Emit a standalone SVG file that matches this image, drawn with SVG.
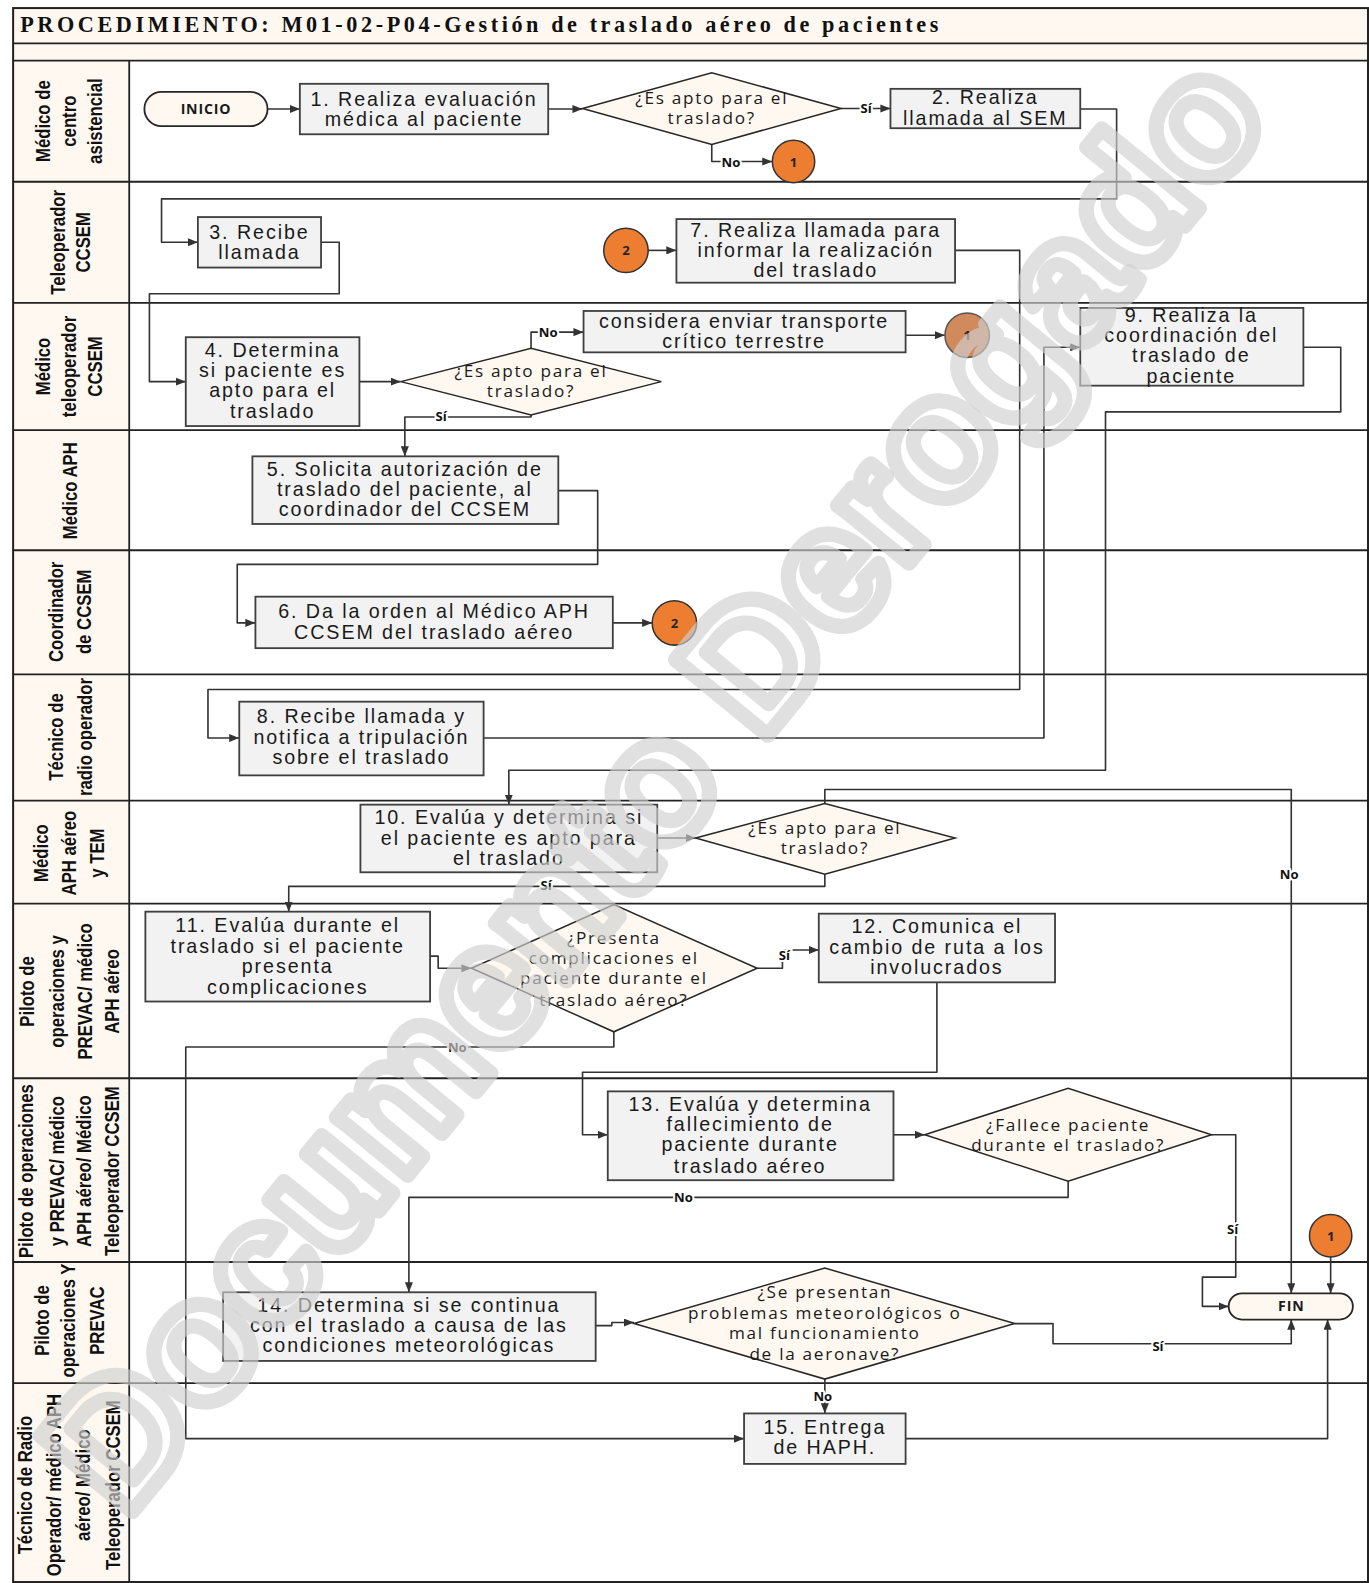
<svg xmlns="http://www.w3.org/2000/svg" width="1369" height="1583" viewBox="0 0 1369 1583">
<defs>
<marker id="arr" viewBox="0 0 10 8" refX="10" refY="4" markerWidth="10" markerHeight="8" markerUnits="userSpaceOnUse" orient="auto"><path d="M0,0 L10,4 L0,8 z" fill="#333"/></marker>
<style>
.frame{fill:none;stroke:#222;stroke-width:2}
.hdr{fill:#FEF8F1;stroke:none}
.lane{stroke:#222;stroke-width:1.8;fill:none}
.ll{font-family:"Liberation Sans",Arial,sans-serif;font-weight:bold;font-size:19.5px;text-anchor:middle;fill:#111}
.title{font-family:"Liberation Serif","Times New Roman",serif;font-weight:bold;font-size:22px;letter-spacing:3.55px;fill:#111}
.box{fill:#F2F2F2;stroke:#3F3F3F;stroke-width:1.8}
.dia{fill:#FEF8F1;stroke:#262626;stroke-width:1.5}
.term{fill:#FEF8F1;stroke:#262626;stroke-width:1.8}
.circ{fill:#ED7D31;stroke:#333;stroke-width:1.5}
.bt{font-family:"Liberation Sans",Arial,sans-serif;font-size:19.5px;letter-spacing:1.9px;text-anchor:middle;fill:#1a1a1a}
.dt{font-family:"Open Sans",sans-serif;font-size:17px;letter-spacing:1.7px;text-anchor:middle;fill:#1a1a1a}
.tt{font-family:"Open Sans",sans-serif;font-weight:bold;font-size:14px;letter-spacing:0.8px;text-anchor:middle;fill:#1a1a1a}
.cn{font-family:"Open Sans",sans-serif;font-weight:bold;font-size:13px;text-anchor:middle;fill:#262626}
.lbl{font-family:"Open Sans",sans-serif;font-weight:bold;font-size:13px;text-anchor:middle;fill:#111;paint-order:stroke;stroke:#fff;stroke-width:4px;stroke-linejoin:round}
.c{fill:none;stroke:#333;stroke-width:1.6;stroke-linejoin:round;marker-end:url(#arr)}
.wm{font-family:"Liberation Sans",Arial,sans-serif;font-weight:bold;font-size:172px;fill:none;stroke:#CFCFCF;stroke-width:15px;stroke-opacity:0.65;stroke-linejoin:round}
</style>
</defs>
<rect width="1369" height="1583" fill="#fff"/>
<g transform="scale(1.00959)">
<g id="frame">
<rect class="hdr" x="13" y="8" width="1342" height="52"/>
<rect class="hdr" x="13" y="60" width="115" height="1508"/>
<rect class="frame" x="13" y="8" width="1342" height="1559"/>
<text class="title" x="20" y="32">PROCEDIMIENTO: M01-02-P04-Gestión de traslado aéreo de pacientes</text>
</g>
<g id="lanes">
<path class="lane" d="M13,43 H1355 M13,60 H1355 M13,180 H1355 M13,300 H1355 M13,426 H1355 M13,545 H1355 M13,668 H1355 M13,793 H1355 M13,895 H1355 M13,1068 H1355 M13,1250 H1355 M13,1370 H1355 M128,60 V1567"/>
<text class="ll" transform="translate(0,120) rotate(-90) scale(0.85,1)"><tspan x="0" y="49.5">Médico de</tspan><tspan x="0" y="75.5">centro</tspan><tspan x="0" y="101.5">asistencial</tspan></text>
<text class="ll" transform="translate(0,240) rotate(-90) scale(0.85,1)"><tspan x="0" y="64.5">Teleoperador</tspan><tspan x="0" y="89.5">CCSEM</tspan></text>
<text class="ll" transform="translate(0,363) rotate(-90) scale(0.85,1)"><tspan x="0" y="49.5">Médico</tspan><tspan x="0" y="75.5">teleoperador</tspan><tspan x="0" y="101.5">CCSEM</tspan></text>
<text class="ll" transform="translate(0,486) rotate(-90) scale(0.85,1)"><tspan x="0" y="76">Médico APH</tspan></text>
<text class="ll" transform="translate(0,606) rotate(-90) scale(0.85,1)"><tspan x="0" y="62.5">Coordinador</tspan><tspan x="0" y="90">de CCSEM</tspan></text>
<text class="ll" transform="translate(0,730) rotate(-90) scale(0.85,1)"><tspan x="0" y="62.5">Técnico de</tspan><tspan x="0" y="91.5">radio operador</tspan></text>
<text class="ll" transform="translate(0,845) rotate(-90) scale(0.85,1)"><tspan x="0" y="47.5">Médico</tspan><tspan x="0" y="75">APH aéreo</tspan><tspan x="0" y="103">y TEM</tspan></text>
<text class="ll" transform="translate(0,982) rotate(-90) scale(0.85,1)"><tspan x="0" y="33.5">Piloto de</tspan><tspan x="0" y="63.5">operaciones y</tspan><tspan x="0" y="91.5">PREVAC/ médico</tspan><tspan x="0" y="118">APH aéreo</tspan></text>
<text class="ll" transform="translate(0,1160) rotate(-90) scale(0.85,1)"><tspan x="0" y="32.5">Piloto de operaciones</tspan><tspan x="0" y="63.5">y PREVAC/ médico</tspan><tspan x="0" y="90.5">APH aéreo/ Médico</tspan><tspan x="0" y="118">Teleoperador CCSEM</tspan></text>
<text class="ll" transform="translate(0,1308) rotate(-90) scale(0.85,1)"><tspan x="0" y="48.5">Piloto de</tspan><tspan x="0" y="74.5">operaciones Y</tspan><tspan x="0" y="103">PREVAC</tspan></text>
<text class="ll" transform="translate(0,1471) rotate(-90) scale(0.85,1)"><tspan x="0" y="31.5">Técnico de Radio</tspan><tspan x="0" y="60.5">Operador/ médico APH</tspan><tspan x="0" y="89.5">aéreo/ Médico</tspan><tspan x="0" y="118.5">Teleoperador CCSEM</tspan></text>
</g>
<g id="connectors">
<path class="c" d="M265,108 H297"/>
<path class="c" d="M543,108 H577"/>
<path class="c" d="M833,107.5 H882"/>
<path class="c" d="M705,143 V160 H765"/>
<path class="c" d="M1070,108 H1106 V197 H160 V240 H196"/>
<path class="c" d="M318,240 H336 V291 H148 V378 H184"/>
<path class="c" d="M356,378 H397"/>
<path class="c" d="M526,345 V329 H578"/>
<path class="c" d="M897,332 H936"/>
<path class="c" d="M526,411 V413 H401 V452"/>
<path class="c" d="M553,486 H592 V559 H235 V617 H253"/>
<path class="c" d="M607,617 H646"/>
<path class="c" d="M642,248 H670"/>
<path class="c" d="M946,248 H1010 V683 H206 V731 H237"/>
<path class="c" d="M479,731 H1034 V344 H1070"/>
<path class="c" d="M1291,344 H1328 V408 H1095 V763 H504 V797"/>
<path class="c" d="M651,830 H689"/>
<path class="c" d="M817,796 V782 H1279 V1281"/>
<path class="c" d="M817,866 V878 H286 V903"/>
<path class="c" d="M426,947 H434 V959 H467"/>
<path class="c" d="M750,959 H775 V941 H811"/>
<path class="c" d="M928,973 V1062 H577 V1124 H602"/>
<path class="c" d="M608,1022 V1037 H184 V1425 H737"/>
<path class="c" d="M885,1124 H916"/>
<path class="c" d="M1200,1124 H1224 V1265 H1191 V1294 H1217"/>
<path class="c" d="M1058,1170 V1186 H405 V1280"/>
<path class="c" d="M590,1313 H606 V1310 H628"/>
<path class="c" d="M1005,1311 H1043 V1331 H1279 V1307"/>
<path class="c" d="M817,1366 V1400"/>
<path class="c" d="M897,1425 H1315 V1307"/>
<path class="c" d="M1318,1245 V1281"/>
<text class="lbl" x="858" y="112">Sí</text>
<text class="lbl" x="724" y="165">No</text>
<text class="lbl" x="543" y="334">No</text>
<text class="lbl" x="437" y="417">Sí</text>
<text class="lbl" x="1277" y="871">No</text>
<text class="lbl" x="541" y="882">Sí</text>
<text class="lbl" x="777" y="951">Sí</text>
<text class="lbl" x="453" y="1042">No</text>
<text class="lbl" x="1221" y="1222">Sí</text>
<text class="lbl" x="677" y="1191">No</text>
<text class="lbl" x="1147" y="1338">Sí</text>
<text class="lbl" x="815" y="1388">No</text>
</g>
<g id="n-inicio"><rect class="term" x="143" y="91" width="122" height="34" rx="17"/><text class="tt" x="204" y="113">INICIO</text></g>
<g id="n-1"><rect class="box" x="297" y="83" width="246" height="50"/><text class="bt"><tspan x="420" y="104.5">1. Realiza evaluación</tspan><tspan x="420" y="124.5">médica al paciente</tspan></text></g>
<g id="n-d1"><polygon class="dia" points="577,107.5 705,72 833,107.5 705,143"/><text class="dt"><tspan x="705" y="103">¿Es apto para el</tspan><tspan x="705" y="123">traslado?</tspan></text></g>
<g id="n-2"><rect class="box" x="882" y="88" width="188" height="39"/><text class="bt"><tspan x="976" y="103.5">2. Realiza</tspan><tspan x="976" y="123.5">llamada al SEM</tspan></text></g>
<g id="n-c1a"><circle class="circ" cx="786" cy="160" r="21"/><text class="cn" x="786" y="165">1</text></g>
<g id="n-3"><rect class="box" x="196" y="215" width="122" height="50"/><text class="bt"><tspan x="257" y="236.5">3. Recibe</tspan><tspan x="257" y="256.5">llamada</tspan></text></g>
<g id="n-c2a"><circle class="circ" cx="620" cy="248" r="22"/><text class="cn" x="620" y="253">2</text></g>
<g id="n-7"><rect class="box" x="670" y="217" width="276" height="63"/><text class="bt"><tspan x="808" y="234.5">7. Realiza llamada para</tspan><tspan x="808" y="254.5">informar la realización</tspan><tspan x="808" y="274.5">del traslado</tspan></text></g>
<g id="n-4"><rect class="box" x="184" y="334" width="172" height="88"/><text class="bt"><tspan x="270" y="353.5">4. Determina</tspan><tspan x="270" y="373.5">si paciente es</tspan><tspan x="270" y="393.5">apto para el</tspan><tspan x="270" y="414">traslado</tspan></text></g>
<g id="n-d2"><polygon class="dia" points="397,378 526,345 655,378 526,411"/><text class="dt"><tspan x="526" y="373">¿Es apto para el</tspan><tspan x="526" y="393">traslado?</tspan></text></g>
<g id="n-terrestre"><rect class="box" x="578" y="308" width="319" height="41"/><text class="bt"><tspan x="737" y="324.5">considera enviar transporte</tspan><tspan x="737" y="344.5">crítico terrestre</tspan></text></g>
<g id="n-c1b"><circle class="circ" cx="958" cy="332" r="22" style="fill:#D08A5C;stroke:#555"/><text class="cn" x="958" y="337">1</text></g>
<g id="n-9"><rect class="box" x="1070" y="305" width="221" height="77"/><text class="bt"><tspan x="1180" y="318.5">9. Realiza la</tspan><tspan x="1180" y="338.5">coordinación del</tspan><tspan x="1180" y="358.5">traslado de</tspan><tspan x="1180" y="379.5">paciente</tspan></text></g>
<g id="n-5"><rect class="box" x="250" y="452" width="303" height="67"/><text class="bt"><tspan x="401" y="471.5">5. Solicita autorización de</tspan><tspan x="401" y="491.5">traslado del paciente, al</tspan><tspan x="401" y="511.5">coordinador del CCSEM</tspan></text></g>
<g id="n-6"><rect class="box" x="253" y="591" width="354" height="51"/><text class="bt"><tspan x="430" y="612.5">6. Da la orden al Médico APH</tspan><tspan x="430" y="632.5">CCSEM del traslado aéreo</tspan></text></g>
<g id="n-c2b"><circle class="circ" cx="668" cy="617" r="22"/><text class="cn" x="668" y="622">2</text></g>
<g id="n-8"><rect class="box" x="237" y="695" width="242" height="73"/><text class="bt"><tspan x="358" y="716.5">8. Recibe llamada y</tspan><tspan x="358" y="736.5">notifica a tripulación</tspan><tspan x="358" y="756.5">sobre el traslado</tspan></text></g>
<g id="n-10"><rect class="box" x="357" y="797" width="294" height="67"/><text class="bt"><tspan x="504" y="816.5">10. Evalúa y determina si</tspan><tspan x="504" y="836.5">el paciente es apto para</tspan><tspan x="504" y="856.5">el traslado</tspan></text></g>
<g id="n-d3"><polygon class="dia" points="689,830 817,796 946,830 817,866"/><text class="dt"><tspan x="817" y="826">¿Es apto para el</tspan><tspan x="817" y="846">traslado?</tspan></text></g>
<g id="n-11"><rect class="box" x="144" y="903" width="282" height="89"/><text class="bt"><tspan x="285" y="923.5">11. Evalúa durante el</tspan><tspan x="285" y="943.5">traslado si el paciente</tspan><tspan x="285" y="963.5">presenta</tspan><tspan x="285" y="984.5">complicaciones</tspan></text></g>
<g id="n-d4"><polygon class="dia" points="467,959 608,896 750,959 608,1022"/><text class="dt"><tspan x="608" y="935">¿Presenta</tspan><tspan x="608" y="955">complicaciones el</tspan><tspan x="608" y="975">paciente durante el</tspan><tspan x="608" y="996">traslado aéreo?</tspan></text></g>
<g id="n-12"><rect class="box" x="811" y="905" width="234" height="68"/><text class="bt"><tspan x="928" y="924.5">12. Comunica el</tspan><tspan x="928" y="944.5">cambio de ruta a los</tspan><tspan x="928" y="964.5">involucrados</tspan></text></g>
<g id="n-13"><rect class="box" x="602" y="1081" width="283" height="88"/><text class="bt"><tspan x="743" y="1100.5">13. Evalúa y determina</tspan><tspan x="743" y="1120.5">fallecimiento de</tspan><tspan x="743" y="1140.5">paciente durante</tspan><tspan x="743" y="1161.5">traslado aéreo</tspan></text></g>
<g id="n-d5"><polygon class="dia" points="916,1124 1058,1078 1200,1124 1058,1170"/><text class="dt"><tspan x="1058" y="1120">¿Fallece paciente</tspan><tspan x="1058" y="1140">durante el traslado?</tspan></text></g>
<g id="n-c1c"><circle class="circ" cx="1318" cy="1224" r="21"/><text class="cn" x="1318" y="1229">1</text></g>
<g id="n-14"><rect class="box" x="221" y="1280" width="369" height="68"/><text class="bt"><tspan x="405" y="1299.5">14. Determina si se continua</tspan><tspan x="405" y="1319.5">con el traslado a causa de las</tspan><tspan x="405" y="1339.5">condiciones meteorológicas</tspan></text></g>
<g id="n-d6"><polygon class="dia" points="628,1311 817,1256 1005,1311 817,1366"/><text class="dt"><tspan x="817" y="1286">¿Se presentan</tspan><tspan x="817" y="1306">problemas meteorológicos o</tspan><tspan x="817" y="1326">mal funcionamiento</tspan><tspan x="817" y="1347">de la aeronave?</tspan></text></g>
<g id="n-fin"><rect class="term" x="1217" y="1281" width="123" height="26" rx="13"/><text class="tt" x="1279" y="1299">FIN</text></g>
<g id="n-15"><rect class="box" x="737" y="1400" width="160" height="50"/><text class="bt"><tspan x="817" y="1420.5">15. Entrega</tspan><tspan x="817" y="1440.5">de HAPH.</tspan></text></g>
<g id="watermark"><text class="wm" transform="translate(124,1506) rotate(-50.7)">Documento Derogado</text></g>
</g>
</svg>
